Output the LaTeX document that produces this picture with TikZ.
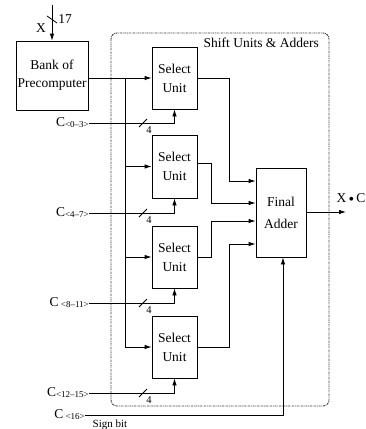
\documentclass[tikz,border=0pt]{standalone}
\usepackage{fontspec}
\setmainfont{Liberation Serif}
\usetikzlibrary{arrows.meta}
\begin{document}
\begin{tikzpicture}[x=1pt,y=-1pt,
  every node/.style={font=\fontsize{13.5}{16}\selectfont, inner sep=0pt},
  blk/.style={draw, line width=0.8pt, align=center, minimum width=45pt},
  wire/.style={line width=0.8pt},
  arr/.style={wire, -{Latex[length=7pt,width=4.5pt]}},
  slash/.style={line width=0.8pt}
]
\useasboundingbox (0,0) rectangle (366,429);
% dashed enclosure
\draw[line width=0.9pt, black!75, dash pattern=on 2pt off 0.8pt on 0.8pt off 0.8pt, rounded corners=6pt]
  (111,33) rectangle (329,406);
\node[anchor=east] (title) at (319,43) {Shift Units \& Adders};

% blocks
\node[blk, minimum width=72pt, minimum height=69pt] (bank) at (52,75.5) {Bank of\\[2pt]Precomputer};
\node[blk, minimum height=62pt] (s1) at (174.5,78) {Select\\[3pt]Unit};
\node[blk, minimum height=63pt] (s2) at (174.5,166.5) {Select\\[3pt]Unit};
\node[blk, minimum height=62pt] (s3) at (174.5,257) {Select\\[3pt]Unit};
\node[blk, minimum height=62pt] (s4) at (174.5,347) {Select\\[3pt]Unit};
\node[blk, minimum width=50pt, minimum height=89pt] (fa) at (281,212.5) {Final\\[6pt]Adder};

% X input
\coordinate (xin) at (52,5);
\draw[arr] (xin) -- (bank.north);
\draw[slash] (47,16) -- (57,23);
\node (xl) at (41,28) {X};
\node (n17) at (65,19) {17};

% bus
\coordinate (bus1) at (125,78);
\coordinate (bus4) at (125,347);
\draw[arr] (bank.east |- s1.west) -- (s1.west);
\draw[wire] (bus1) -- (bus4);
\draw[arr] (bus1 |- s2.west) -- (s2.west);
\draw[arr] (bus1 |- s3.west) -- (s3.west);
\draw[arr] (bus4) -- (s4.west);

% C inputs
\foreach \i/\y/\lab in {1/123/{C\raisebox{-1pt}{\fontsize{9}{10}\selectfont<0--3>}},
                        2/213/{C\raisebox{-1pt}{\fontsize{9}{10}\selectfont<4--7>}},
                        3/303/{C\,\raisebox{-1pt}{\fontsize{9}{10}\selectfont<8--11>}},
                        4/393/{C\raisebox{-1pt}{\fontsize{9}{10}\selectfont<12--15>}}} {
  \node[anchor=east] (cl\i) at (89,\y) {\lab};
  \draw[arr] (cl\i.east) -- (s\i.south |- cl\i.east) -- (s\i.south);
  \draw[slash] (139,\y+4) -- (147,\y-4);
  \node[font=\fontsize{10.5}{11}\selectfont] (four\i) at (149,\y+7) {4};
}

% select outputs to final adder
\draw[arr] (s1.east) -- (229,78) -- (229,181) -- (fa.west |- 0,181);
\draw[arr] (s2.east |- 0,163) -- (211,163) -- (211,203) -- (fa.west |- 0,203);
\draw[arr] (s3.east) -- (211,257) -- (211,221) -- (fa.west |- 0,221);
\draw[arr] (s4.east) -- (229,347) -- (229,244) -- (fa.west |- 0,244);

% sign bit
\node[anchor=east] (c16) at (85,415) {C\,\raisebox{-1pt}{\fontsize{9}{10}\selectfont<16>}};
\draw[arr] (c16.east) -- (283,415) -- (fa.south -| 283,0);
\node (sign) at (110,425) {\fontsize{11}{12}\selectfont Sign bit};

% output
\coordinate (xout) at (346,212);
\draw[arr] (fa.east |- xout) -- (xout);
\node (xc) at (351,199) {X\,{\fontsize{16}{16}\selectfont\raisebox{-1.5pt}{•}}\,C};
\end{tikzpicture}
\end{document}
